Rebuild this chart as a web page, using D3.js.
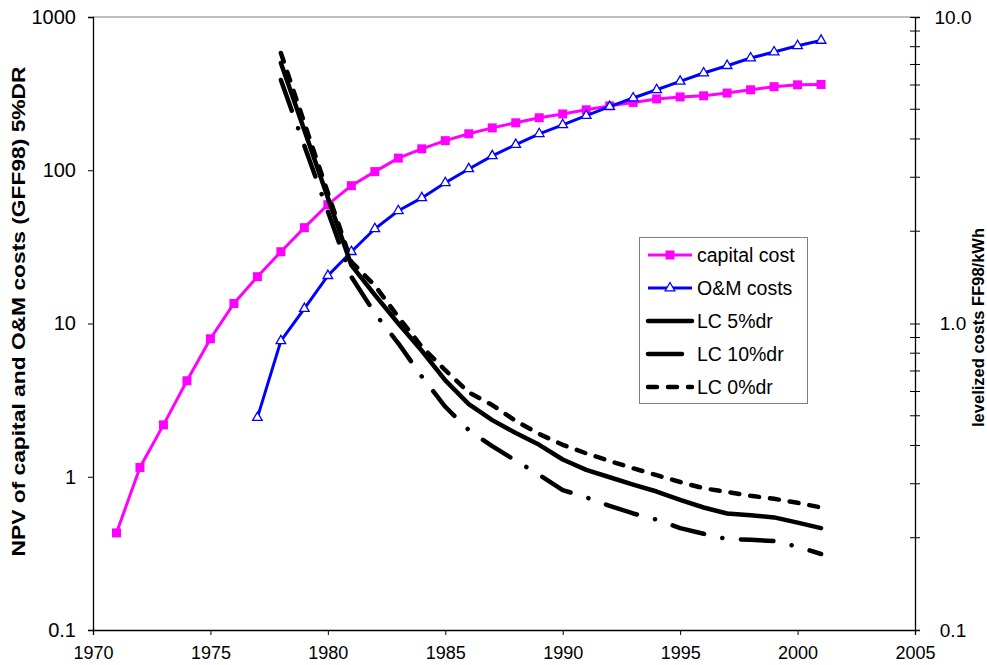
<!DOCTYPE html>
<html>
<head>
<meta charset="utf-8">
<script src="https://cdn.jsdelivr.net/npm/d3@7"></script>
<style>
  body { margin: 0; background: #fff; }
  text { font-family: "Liberation Sans", Arial, sans-serif; }
</style>
</head>
<body>
<svg id="chart" width="987" height="665"></svg>
<script>
// values
var capitalYears = d3.range(1971, 2002);
var capitalCost = [0.43, 1.15, 2.18, 4.23, 7.95, 13.5, 20.2, 29.4, 42.2, 59.6, 79.3,
    98, 120, 138, 156, 173, 189, 204, 220, 233, 248, 263, 277, 292, 301, 306, 319,
    335, 351, 361, 363];

var omYears = d3.range(1977, 2002);
var omCosts = [2.43, 7.7, 12.5, 20.5, 29.4, 41.5, 54.4, 66, 82.8, 102, 124, 147, 173,
    198, 227, 260, 296, 335, 380, 431, 481, 540, 591, 649, 703];

var lcYears = d3.range(1978, 2002);
var lc5 = [7.08, 4.27, 2.57, 1.55, 1.24, 1.0, 0.815, 0.652, 0.546, 0.484, 0.439, 0.402,
    0.36, 0.333, 0.315, 0.298, 0.283, 0.266, 0.251, 0.24, 0.237, 0.233, 0.224, 0.215];
var lc10 = [6.23, 3.8, 2.32, 1.42, 1.08, 0.862, 0.671, 0.535, 0.449, 0.398, 0.357, 0.321,
    0.286, 0.271, 0.254, 0.24, 0.229, 0.215, 0.206, 0.198, 0.197, 0.195, 0.187, 0.177];
var lc0 = [7.63, 4.51, 2.67, 1.59, 1.33, 1.05, 0.84, 0.704, 0.596, 0.542, 0.481, 0.436,
    0.402, 0.377, 0.356, 0.337, 0.32, 0.304, 0.29, 0.282, 0.274, 0.268, 0.26, 0.251];

var xTicks = d3.range(1970, 2006, 5);
var leftTicks = [0.1, 1, 10, 100, 1000];
var leftLabels = ["0.1", "1", "10", "100", "1000"];
var rightTicks = [0.1, 1, 10];
var rightLabels = ["0.1", "1.0", "10.0"];

var legendNames = ["capital cost", "O&M costs", "LC 5%dr", "LC 10%dr", "LC 0%dr"];

var svg = d3.select("#chart");
var L = 93, R = 915, T = 17, B = 630;

var x = d3.scaleLinear().domain([1970, 2005]).range([L, R]);
var yL = d3.scaleLog().domain([0.1, 1000]).range([B, T]);
var yR = d3.scaleLog().domain([0.1, 10]).range([B, T]);

svg.append("rect").attr("width", 987).attr("height", 665).attr("fill", "#fff");

// plot area top border
svg.append("line")
    .attr("x1", L).attr("x2", R).attr("y1", T).attr("y2", T)
    .attr("stroke", "#808080").attr("stroke-width", 1);

// axes
var gx = svg.append("g")
    .attr("transform", "translate(0," + B + ")")
    .call(d3.axisBottom(x).tickValues(xTicks).tickSize(5).tickFormat(d3.format("d")));

var gl = svg.append("g")
    .attr("transform", "translate(" + L + ",0)")
    .call(d3.axisLeft(yL).tickValues(leftTicks).tickSize(5)
        .tickFormat(function (d, i) { return leftLabels[i]; }));

var minor = [];
[0.1, 1].forEach(function (base) {
    d3.range(2, 10).forEach(function (k) { minor.push(base * k); });
});

var gr = svg.append("g").attr("transform", "translate(" + R + ",0)");
gr.call(d3.axisRight(yR).tickValues(rightTicks).tickSize(5)
    .tickFormat(function (d, i) { return rightLabels[i]; }));
gr.selectAll(".tick line").attr("x1", -5);
gr.selectAll(".minor").data(minor).enter().append("line")
    .attr("x1", -5).attr("x2", 5)
    .attr("y1", function (d) { return yR(d); })
    .attr("y2", function (d) { return yR(d); })
    .attr("stroke", "#000");

[gx, gl, gr].forEach(function (g) {
    g.select(".domain").attr("stroke", "#000").attr("stroke-width", 1.3);
    g.selectAll("text").attr("fill", "#000")
        .style("font-family", '"Liberation Sans", Arial, sans-serif');
});
gx.selectAll("text").attr("font-size", 18).attr("dy", "1.15em");
gl.selectAll("text").attr("font-size", 20).attr("x", -17);
gr.selectAll(".tick text").attr("font-size", 19).attr("x", 38).attr("text-anchor", "middle");

// axis titles
svg.append("text")
    .attr("transform", "translate(25," + ((T + B) / 2 - 12) + ") rotate(-90)")
    .attr("text-anchor", "middle")
    .attr("font-size", 18).attr("font-weight", "bold")
    .attr("textLength", 490).attr("lengthAdjust", "spacingAndGlyphs")
    .text("NPV of capital and O&M costs (GFF98) 5%DR");

svg.append("text")
    .attr("transform", "translate(984," + ((T + B) / 2 + 4) + ") rotate(-90)")
    .attr("text-anchor", "middle")
    .attr("font-size", 16.5).attr("font-weight", "bold")
    .text("levelized costs FF98/kWh");

// series
function lineOn(scale, years) {
    return d3.line()
        .x(function (d, i) { return x(years[i]); })
        .y(function (d) { return scale(d); });
}

svg.append("path").datum(capitalCost)
    .attr("d", lineOn(yL, capitalYears))
    .attr("fill", "none").attr("stroke", "#ff00ff").attr("stroke-width", 3);
svg.selectAll(".cap").data(capitalCost).enter().append("path")
    .attr("transform", function (d, i) { return "translate(" + x(capitalYears[i]) + "," + yL(d) + ")"; })
    .attr("d", d3.symbol(d3.symbolSquare, 81))
    .attr("fill", "#ff00ff");

svg.append("path").datum(omCosts)
    .attr("d", lineOn(yL, omYears))
    .attr("fill", "none").attr("stroke", "#0000ff").attr("stroke-width", 3);
svg.selectAll(".om").data(omCosts).enter().append("path")
    .attr("transform", function (d, i) { return "translate(" + x(omYears[i]) + "," + yL(d) + ")"; })
    .attr("d", d3.symbol(d3.symbolTriangle, 40))
    .attr("fill", "#fff").attr("stroke", "#0000ff").attr("stroke-width", 1.3);

var lcStyles = [
    { data: lc5, dash: null },
    { data: lc10, dash: [34, 19.5, 0.1, 19.5] },
    { data: lc0, dash: [9, 11] }
];
lcStyles.forEach(function (s) {
    var p = svg.append("path").datum(s.data)
        .attr("d", lineOn(yR, lcYears))
        .attr("fill", "none").attr("stroke", "#000").attr("stroke-width", 4.5)
        .attr("stroke-linecap", "round").attr("stroke-linejoin", "round");
    if (s.dash) {
        // stretch the pattern a little so the line ends inside a dash, like the original
        var len = p.node().getTotalLength();
        var period = d3.sum(s.dash);
        var n = Math.max(1, Math.round((len - 12) / period));
        var k = (len - 12) / (n * period);
        p.attr("stroke-dasharray", s.dash.map(function (v) { return v * k; }).join(","));
    }
});

// legend
var lg = svg.append("g");
lg.append("rect")
    .attr("x", 639.5).attr("y", 237.5).attr("width", 168).attr("height", 166)
    .attr("fill", "#fff").attr("stroke", "#808080");
var rowY = d3.scalePoint().domain(legendNames).range([255, 387]);
var sample = [
    { color: "#ff00ff", w: 3, dash: null, sym: d3.symbolSquare, size: 81, fill: "#ff00ff" },
    { color: "#0000ff", w: 3, dash: null, sym: d3.symbolTriangle, size: 40, fill: "#fff" },
    { color: "#000", w: 4.5, dash: null },
    { color: "#000", w: 4.5, dash: "34,19.5,0.1,19.5" },
    { color: "#000", w: 4.5, dash: "9,11" }
];
legendNames.forEach(function (name, i) {
    var yy = rowY(name), s = sample[i];
    lg.append("line")
        .attr("x1", 648).attr("x2", 692).attr("y1", yy).attr("y2", yy)
        .attr("stroke", s.color).attr("stroke-width", s.w)
        .attr("stroke-linecap", i > 1 ? "round" : "butt")
        .attr("stroke-dasharray", s.dash);
    if (s.sym) {
        lg.append("path")
            .attr("transform", "translate(670," + yy + ")")
            .attr("d", d3.symbol(s.sym, s.size))
            .attr("fill", s.fill)
            .attr("stroke", s.fill === "#fff" ? s.color : "none")
            .attr("stroke-width", 1.3);
    }
    lg.append("text")
        .attr("x", 697).attr("y", yy).attr("dy", "0.36em")
        .attr("font-size", 19.5)
        .text(name);
});
</script>
</body>
</html>
